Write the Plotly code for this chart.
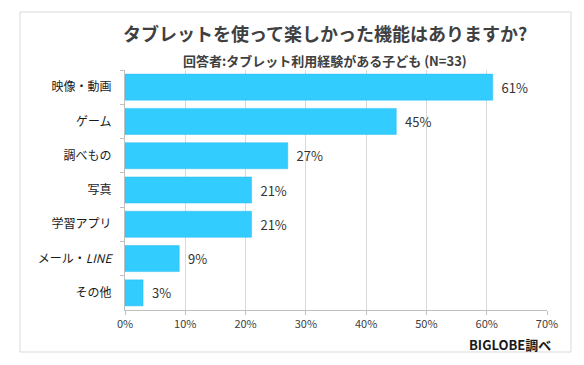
import plotly.graph_objects as go

categories = ["映像・動画", "ゲーム", "調べもの", "写真", "学習アプリ", "メール・<i>LINE</i>", "その他"]
values = [61, 45, 27, 21, 21, 9, 3]
tick_vals = [0, 10, 20, 30, 40, 50, 60, 70]
tick_text = ["0%", "10%", "20%", "30%", "40%", "50%", "60%", "70%"]

FONT = "Noto Sans CJK JP"
L, R, T, B = 125, 37, 70, 55
W, H = 584, 365
pw, ph = W - L - R, H - T - B

def px(x):
    return (x - L) / pw

def py(y):
    return (H - B - y) / ph

fig = go.Figure(go.Bar(
    y=categories,
    x=values,
    orientation="h",
    marker=dict(color="#33CCFF", line=dict(color="#2BBDF0", width=0.5)),
    text=[f"  {v}%" for v in values],
    textposition="outside",
    textfont=dict(family=FONT, size=13, color="#333333"),
    cliponaxis=False,
    width=0.76,
    hoverinfo="skip",
))

fig.update_layout(
    width=W, height=H,
    margin=dict(l=L, r=R, t=T, b=B),
    paper_bgcolor="white",
    plot_bgcolor="white",
    showlegend=False,
    font=dict(family=FONT, color="#333333"),
    xaxis=dict(
        range=[0, 70],
        tickvals=tick_vals,
        ticktext=tick_text,
        showgrid=True,
        gridcolor="#d9d9d9",
        gridwidth=1,
        showline=True,
        linecolor="#bfbfbf",
        ticks="outside",
        ticklen=4,
        tickcolor="#bfbfbf",
        tickfont=dict(family=FONT, size=11, color="#404040"),
        zeroline=False,
        fixedrange=True,
    ),
    yaxis=dict(
        autorange="reversed",
        showline=True,
        linecolor="#bfbfbf",
        ticks="outside",
        tickson="boundaries",
        ticklen=4,
        tickcolor="#bfbfbf",
        tickfont=dict(family=FONT, size=12, color="#1a1a1a"),
        showgrid=False,
        ticklabelstandoff=10,
        fixedrange=True,
    ),
    shapes=[dict(
        type="rect", xref="paper", yref="paper",
        x0=px(20), x1=px(571), y0=py(352), y1=py(12),
        line=dict(color="#d9d9d9", width=1), fillcolor="rgba(0,0,0,0)",
        layer="below",
    )],
    annotations=[
        dict(text="<b>タブレットを使って楽しかった機能はありますか?</b>",
             xref="paper", yref="paper", x=px(325), y=py(33),
             xanchor="center", yanchor="middle", showarrow=False,
             font=dict(family=FONT, size=18, color="#404040")),
        dict(text="<b>回答者:タブレット利用経験がある子ども (N=33)</b>",
             xref="paper", yref="paper", x=px(325), y=py(61),
             xanchor="center", yanchor="middle", showarrow=False,
             font=dict(family=FONT, size=13, color="#404040")),
        dict(text="<b>BIGLOBE調べ</b>",
             xref="paper", yref="paper", x=px(553), y=py(344),
             xanchor="right", yanchor="middle", showarrow=False,
             font=dict(family=FONT, size=13, color="#1a1a1a")),
    ],
)

fig.write_html("out.html", config={"displayModeBar": False},
               post_script="document.body.style.margin='0';")
